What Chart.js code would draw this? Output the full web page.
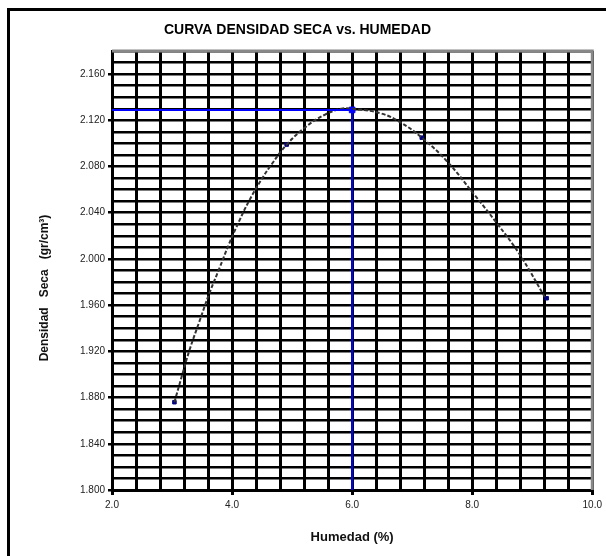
<!DOCTYPE html>
<html>
<head>
<meta charset="utf-8">
<script src="https://cdn.jsdelivr.net/npm/chart.js@4/dist/chart.umd.min.js"></script>
<style>
  html, body { margin: 0; padding: 0; background: #fff; overflow: hidden; }
  #wrap { position: relative; width: 606px; height: 556px; }
  #frame { position: absolute; left: 7px; top: 8px; width: 700px; height: 700px; border: 3px solid #000; }
  canvas { position: absolute; left: 0; top: 0; }
</style>
</head>
<body>
<div id="wrap">
  <div id="frame"></div>
  <canvas id="proctor" width="606" height="556"></canvas>
</div>
<script>
// ensayo: humedad (%) vs densidad seca (gr/cm3)
const humedad = [3.04, 4.91, 7.16, 9.24];
const densidad = [1.876, 2.099, 2.105, 1.966];

// curva
const curvaHum = [3.04, 3.16, 3.29, 3.45, 3.62, 3.79, 3.95, 4.12, 4.28, 4.48, 4.66, 4.91, 5.22, 5.55, 5.82, 6.00, 6.48, 6.81, 7.16, 7.59, 8.03, 8.41, 8.79, 9.21];
const curvaDens = [1.876, 1.898, 1.921, 1.945, 1.970, 1.992, 2.013, 2.033, 2.050, 2.068, 2.082, 2.099, 2.114, 2.125, 2.130, 2.130, 2.126, 2.118, 2.105, 2.084, 2.056, 2.031, 2.004, 1.967];

// optimo
const humOptima = 6.0;
const densMax = 2.129;

const xMin = 2, xMax = 10, xStep = 0.4;
const yMin = 1.80, yMax = 2.18, yStep = 0.01;

const toPoints = (xs, ys) => xs.map((x, i) => ({ x: x, y: ys[i] }));

// y axis title + gray frame on top/right
const extras = {
  id: 'extras',
  afterDraw(chart) {
    const { ctx, chartArea } = chart;
    ctx.save();
    ctx.strokeStyle = '#888';
    ctx.lineWidth = 3;
    ctx.beginPath();
    ctx.moveTo(chartArea.left, chartArea.top);
    ctx.lineTo(chartArea.right, chartArea.top);
    ctx.lineTo(chartArea.right, chartArea.bottom);
    ctx.stroke();
    ctx.translate(45, 288);
    ctx.rotate(-Math.PI / 2);
    ctx.fillStyle = '#111';
    ctx.font = 'bold 12px Arial, "Liberation Sans", sans-serif';
    ctx.textAlign = 'center';
    ctx.textBaseline = 'middle';
    ctx.fillText('Densidad   Seca   (gr/cm³)', 0, 0);
    ctx.restore();
  }
};

Chart.defaults.font.family = 'Arial, "Liberation Sans", sans-serif';

new Chart(document.getElementById('proctor'), {
  type: 'scatter',
  data: {
    datasets: [
      {
        label: 'optimo',
        data: [{ x: xMin, y: densMax }, { x: humOptima, y: densMax }, { x: humOptima, y: yMin }],
        showLine: true,
        borderColor: '#0000ff',
        borderWidth: 2,
        pointRadius: 0
      },
      {
        label: 'curva',
        data: toPoints(curvaHum, curvaDens),
        showLine: true,
        tension: 0.4,
        borderColor: '#333',
        borderWidth: 2,
        borderDash: [4, 2],
        pointRadius: 0
      },
      {
        label: 'ensayo',
        data: toPoints(humedad, densidad),
        pointStyle: 'rect',
        pointRadius: 2.5,
        backgroundColor: '#000080',
        borderColor: '#000080'
      },
      {
        label: 'max',
        data: [{ x: humOptima, y: densMax }],
        pointStyle: 'rect',
        pointRadius: 4,
        backgroundColor: '#0000ff',
        borderColor: '#0000ff'
      }
    ]
  },
  options: {
    responsive: false,
    animation: false,
    layout: { padding: { left: 0, right: 11, top: 0, bottom: 0 } },
    plugins: {
      legend: { display: false },
      tooltip: { enabled: false },
      title: {
        display: true,
        text: 'CURVA DENSIDAD SECA vs. HUMEDAD',
        color: '#000',
        font: { size: 14, weight: 'bold' },
        padding: { top: 21.6, bottom: 12.6 }
      }
    },
    scales: {
      x: {
        type: 'linear',
        min: xMin,
        max: xMax,
        afterFit: (scale) => { scale.height = 66; },
        ticks: {
          stepSize: xStep,
          autoSkip: false,
          maxRotation: 0,
          padding: 4,
          color: '#222',
          font: { size: 10 },
          callback: (v) => Math.abs(v / 2 - Math.round(v / 2)) < 1e-6 ? v.toFixed(1) : ''
        },
        grid: {
          color: '#000',
          lineWidth: 3,
          tickLength: 5,
          tickColor: (ctx) => ctx.index % 5 === 0 ? '#000' : 'rgba(0,0,0,0)'
        },
        border: { color: '#000', width: 3 },
        title: {
          display: true,
          text: 'Humedad (%)',
          color: '#111',
          font: { size: 13, weight: 'bold' },
          padding: { top: 0, bottom: 11.2 }
        }
      },
      y: {
        min: yMin,
        max: yMax,
        afterFit: (scale) => { scale.width = 112; },
        ticks: {
          stepSize: yStep,
          autoSkip: false,
          padding: 3,
          color: '#222',
          font: { size: 10 },
          callback: (v, i) => i % 4 === 0 ? v.toFixed(3) : ''
        },
        grid: {
          color: '#000',
          lineWidth: 2.5,
          tickLength: 4,
          tickColor: (ctx) => ctx.index % 4 === 0 ? '#000' : 'rgba(0,0,0,0)'
        },
        border: { color: '#000', width: 3 }
      }
    }
  },
  plugins: [extras]
});
</script>
</body>
</html>
